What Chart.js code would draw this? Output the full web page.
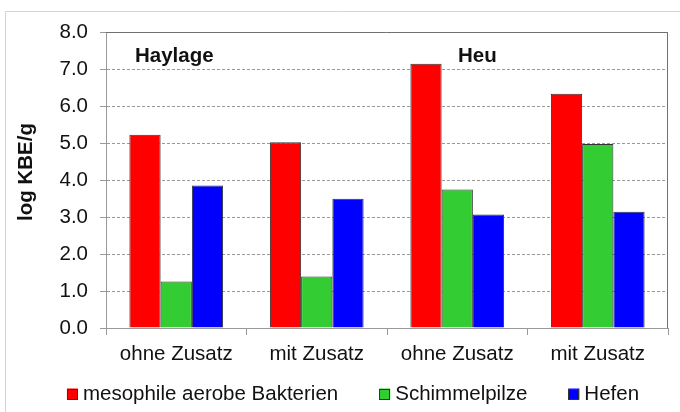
<!DOCTYPE html>
<html>
<head>
<meta charset="utf-8">
<script src="https://cdn.jsdelivr.net/npm/chart.js@4/dist/chart.umd.min.js"></script>
<style>
  body { margin: 0; background: #fff; }
  canvas { display: block; }
</style>
</head>
<body>
<canvas id="chart" width="680" height="412"></canvas>
<script>
// categories and values (log KBE/g)
const categories = ['ohne Zusatz', 'mit Zusatz', 'ohne Zusatz', 'mit Zusatz'];
const bakterien = [5.22, 5.02, 7.14, 6.33];
const schimmelpilze = [1.26, 1.39, 3.74, 4.97];
const hefen = [3.85, 3.49, 3.07, 3.14];
const yTicks = [0, 1, 2, 3, 4, 5, 6, 7, 8];
const groupLabels = ['Haylage', 'Heu'];
const yTitle = 'log KBE/g';

const FONT = '"Liberation Sans", Arial, sans-serif';

// light frame, top/right plot border, axis title, group labels
const decorations = {
  id: 'decorations',
  beforeDraw(chart) {
    const ctx = chart.ctx;
    ctx.save();
    ctx.strokeStyle = '#d4d4d4';
    ctx.lineWidth = 1;
    ctx.beginPath();
    ctx.moveTo(5.5, 420);
    ctx.lineTo(5.5, 11.5);
    ctx.lineTo(690, 11.5);
    ctx.stroke();
    ctx.restore();
  },
  afterDraw(chart) {
    const ctx = chart.ctx;
    const a = chart.chartArea;
    ctx.save();
    ctx.strokeStyle = '#707070';
    ctx.lineWidth = 1;
    ctx.beginPath();
    ctx.moveTo(a.left, a.top + 0.5);
    ctx.lineTo(a.right - 0.5, a.top + 0.5);
    ctx.lineTo(a.right - 0.5, a.bottom);
    ctx.stroke();

    ctx.fillStyle = '#111';
    ctx.font = 'bold 20.5px ' + FONT;
    ctx.textBaseline = 'alphabetic';
    ctx.fillText(groupLabels[0], a.left + 29, 62);
    ctx.fillText(groupLabels[1], a.left + 352, 62);

    // y title, a bit above the plot centre like the original
    ctx.translate(26, (a.top + a.bottom) / 2 - 8);
    ctx.rotate(-Math.PI / 2);
    ctx.textAlign = 'center';
    ctx.textBaseline = 'middle';
    ctx.fillText(yTitle, 0, 0);
    ctx.restore();
  }
};

// legend along the bottom
const bottomLegend = {
  id: 'bottomLegend',
  afterDraw(chart) {
    const ctx = chart.ctx;
    const box = 11, gap = 5, spacing = 41;
    const centerX = 353, centerY = 394;
    ctx.save();
    ctx.font = '20.5px ' + FONT;
    const items = chart.data.datasets.map((ds) => {
      return { label: ds.label, fill: ds.backgroundColor, w: ctx.measureText(ds.label).width };
    });
    let total = spacing * (items.length - 1);
    items.forEach((it) => { total += box + gap + it.w; });
    let x = centerX - total / 2;
    ctx.textBaseline = 'middle';
    items.forEach((it) => {
      ctx.fillStyle = it.fill;
      ctx.fillRect(x, centerY - box / 2, box, box);
      ctx.strokeStyle = '#333';
      ctx.lineWidth = 1;
      ctx.strokeRect(Math.round(x) + 0.5, Math.round(centerY - box / 2) + 0.5, box - 1, box - 1);
      ctx.fillStyle = '#111';
      ctx.fillText(it.label, x + box + gap, centerY);
      x += box + gap + it.w + spacing;
    });
    ctx.restore();
  }
};

const ctx = document.getElementById('chart').getContext('2d');
new Chart(ctx, {
  type: 'bar',
  data: {
    labels: categories,
    datasets: [
      { label: 'mesophile aerobe Bakterien', data: bakterien, backgroundColor: '#ff0000', borderColor: '#333', borderWidth: 1 },
      { label: 'Schimmelpilze', data: schimmelpilze, backgroundColor: '#33cc33', borderColor: '#333', borderWidth: 1 },
      { label: 'Hefen', data: hefen, backgroundColor: '#0000ff', borderColor: '#333', borderWidth: 1 }
    ]
  },
  options: {
    responsive: false,
    animation: false,
    layout: { padding: { left: 0, top: 32, right: 12, bottom: 0 } },
    datasets: { bar: { categoryPercentage: 0.667, barPercentage: 1.0 } },
    plugins: {
      legend: { display: false },
      tooltip: { enabled: false }
    },
    scales: {
      x: {
        grid: { display: true, drawOnChartArea: false, drawTicks: true, tickLength: 7, color: '#999', offset: true },
        border: { display: true, color: '#999', width: 1 },
        ticks: { color: '#111', padding: 7, font: { family: FONT, size: 20.5 }, maxRotation: 0 },
        afterFit: (s) => { s.height = 84; }
      },
      y: {
        min: 0,
        max: 8,
        afterBuildTicks: (s) => { s.ticks = yTicks.map((v) => ({ value: v })); },
        grid: { color: '#9a9a9a', tickLength: 6, tickColor: '#999' },
        border: { display: true, color: '#999', width: 1, dash: [3, 2] },
        ticks: {
          color: '#111',
          padding: 12,
          font: { family: FONT, size: 20.5 },
          callback: (v) => Number(v).toFixed(1)
        },
        afterFit: (s) => { s.width = 106; }
      }
    }
  },
  plugins: [decorations, bottomLegend]
});
</script>
</body>
</html>
